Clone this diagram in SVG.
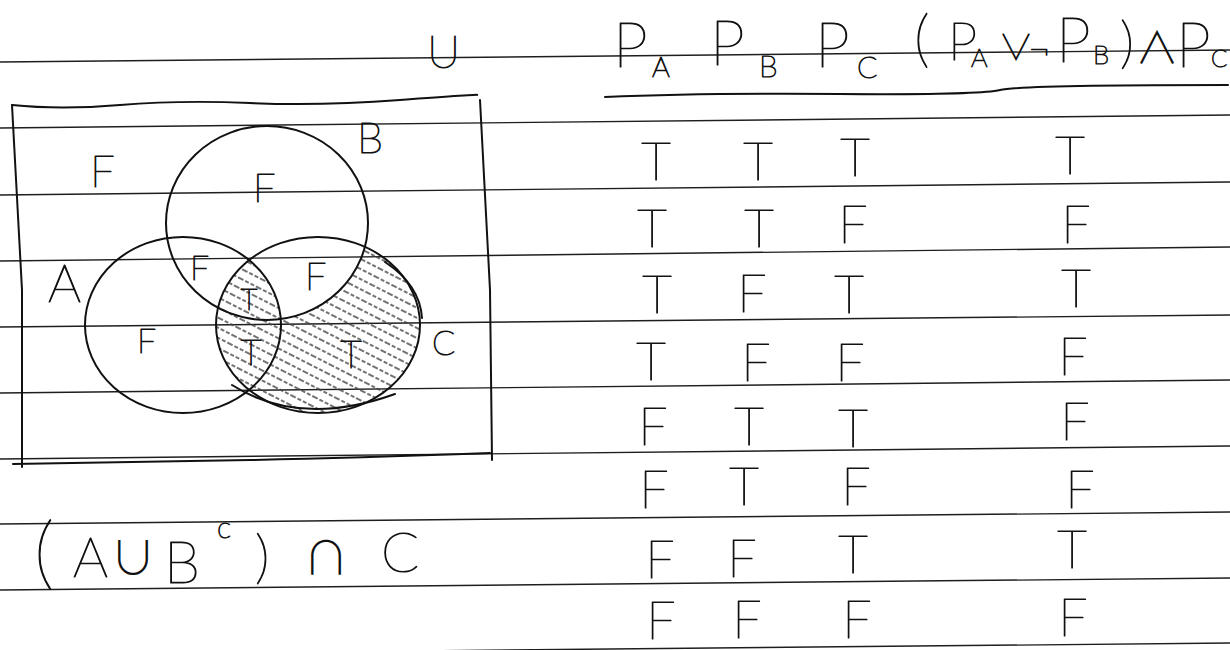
<svg xmlns="http://www.w3.org/2000/svg" width="1230" height="650" viewBox="0 0 1230 650">
<style>
.rule{stroke:#1e1e1e;stroke-width:1.4;fill:none}
.ink{stroke:#111;stroke-width:2;fill:none;stroke-linecap:round}
.hw{font-family:Lato,"Liberation Sans",sans-serif;font-weight:200;fill:#111;stroke:#111;stroke-width:1.1;stroke-linejoin:round}
.sym{font-family:"Noto Sans CJK SC","DejaVu Sans",sans-serif;font-weight:300;fill:#111}
.cell{font-size:52px;text-anchor:middle}
.hatch{stroke:#444;stroke-width:1.3;stroke-dasharray:4 2}
</style>
<defs>
<pattern id="hatchPat" patternUnits="userSpaceOnUse" width="20" height="9" patternTransform="rotate(27)">
<line class="hatch" x1="0" y1="4" x2="20" y2="4"/>
</pattern>
<clipPath id="clipC"><ellipse cx="318" cy="325" rx="102" ry="88"/></clipPath>
<mask id="maskAnotB" maskUnits="userSpaceOnUse" x="0" y="0" width="1230" height="650">
<rect x="0" y="0" width="1230" height="650" fill="#fff"/>
<ellipse cx="267" cy="223" rx="101" ry="97" fill="#000"/>
<ellipse cx="183" cy="325" rx="98" ry="88" fill="#fff"/>
</mask>
</defs>
<rect width="1230" height="650" fill="#fff"/>
<g id="paper-lines">
<path class="rule" d="M0,62 L1230,50"/>
<path class="rule" d="M0,128 L1230,115"/>
<path class="rule" d="M0,195 L1230,182"/>
<path class="rule" d="M0,261 L1230,247"/>
<path class="rule" d="M0,327 L1230,315"/>
<path class="rule" d="M0,393 L1230,380"/>
<path class="rule" d="M0,459 L1230,446"/>
<path class="rule" d="M0,524 L1230,512"/>
<path class="rule" d="M0,590 L1230,578"/>
<path class="rule" d="M0,655 L1230,643"/>
</g>
<g id="universe-box">
<path class="ink" d="M12,105 Q60,110 120,105 T250,103 T400,100 T477,95"/>
<path class="ink" d="M12,105 L22,290 L22,467"/>
<path class="ink" d="M13,464 Q150,462 250,460 T490,453"/>
<path class="ink" stroke-width="1.5" d="M480,100 L490,290 L492,460"/>
<text class="hw" x="427" y="68" font-size="46">U</text>
</g>
<g id="shading">
<g clip-path="url(#clipC)">
<rect x="200" y="230" width="230" height="190" fill="url(#hatchPat)" mask="url(#maskAnotB)"/>
</g>
</g>
<g id="set-B">
<ellipse class="ink" cx="267" cy="223" rx="101" ry="97"/>
<text class="hw" x="357" y="153" font-size="42">B</text>
</g>
<g id="set-A">
<ellipse class="ink" cx="183" cy="325" rx="98" ry="88"/>
<text class="hw" x="48" y="302" font-size="52">A</text>
</g>
<g id="set-C">
<ellipse class="ink" stroke-width="2.6" cx="318" cy="325" rx="102" ry="88"/>
<path class="ink" stroke-width="1.6" d="M232,385 Q300,428 395,394"/>
<path class="ink" stroke-width="1.6" d="M385,262 Q420,285 422,318"/>
<text class="hw" x="432" y="355" font-size="34">C</text>
</g>
<g id="region-labels">
<text class="hw" x="90" y="187" font-size="44">F</text>
<text class="hw" x="253" y="202" font-size="40">F</text>
<text class="hw" x="190" y="280" font-size="34">F</text>
<text class="hw" x="305" y="290" font-size="38">F</text>
<text class="hw" x="249" y="310" font-size="30" text-anchor="middle">T</text>
<text class="hw" x="137" y="353" font-size="34">F</text>
<text class="hw" x="251" y="365" font-size="36" text-anchor="middle">T</text>
<text class="hw" x="351" y="368" font-size="38" text-anchor="middle">T</text>
</g>
<g id="formula">
<text class="hw" x="34" y="580" font-size="80">(</text>
<text class="hw" x="73" y="577" font-size="55">A</text>
<text class="sym" x="110" y="574" font-size="46">∪</text>
<text class="hw" x="164" y="583" font-size="58">B</text>
<text class="hw" x="217" y="538" font-size="30">c</text>
<text class="hw" x="255" y="577" font-size="58">)</text>
<text class="sym" x="303" y="574" font-size="46">∩</text>
<text class="hw" x="381" y="572" font-size="56">C</text>
</g>
<g id="table-header">
<text class="hw" x="613" y="67" font-size="62">P</text>
<text class="hw" x="652" y="77" font-size="28">A</text>
<text class="hw" x="710" y="65" font-size="62">P</text>
<text class="hw" x="759" y="77" font-size="30">B</text>
<text class="hw" x="815" y="67" font-size="62">P</text>
<text class="hw" x="857" y="78" font-size="30">C</text>
<text class="hw" x="914" y="60" font-size="62">(</text>
<text class="hw" x="948" y="60" font-size="52">P</text>
<text class="hw" x="971" y="67" font-size="26">A</text>
<text class="sym" x="998" y="61" font-size="36">∨</text>
<text class="hw" x="1028" y="62" font-size="38">¬</text>
<text class="hw" x="1056" y="62" font-size="62">P</text>
<text class="hw" x="1093" y="64" font-size="26">B</text>
<text class="hw" x="1120" y="62" font-size="56">)</text>
<text class="sym" x="1135" y="64" font-size="44">∧</text>
<text class="hw" x="1176" y="67" font-size="62">P</text>
<text class="hw" x="1211" y="67" font-size="24">C</text>
<path class="ink" stroke-width="2.2" d="M605,97 Q700,93 840,94 T1000,90 T1228,85"/>
</g>
<g id="table-rows" class="hw cell">
<text x="656" y="180">T</text><text x="758" y="180">T</text><text x="855" y="176">T</text><text x="1070" y="174">T</text>
<text x="652" y="247">T</text><text x="759" y="247">T</text><text x="853" y="243">F</text><text x="1076" y="243">F</text>
<text x="657" y="313">T</text><text x="752" y="312">F</text><text x="849" y="313">T</text><text x="1076" y="307">T</text>
<text x="651" y="380">T</text><text x="756" y="381">F</text><text x="850" y="381">F</text><text x="1073" y="375">F</text>
<text x="653" y="445">F</text><text x="749" y="445">T</text><text x="853" y="447">T</text><text x="1075" y="440">F</text>
<text x="654" y="508">F</text><text x="744" y="505">T</text><text x="856" y="505">F</text><text x="1080" y="508">F</text>
<text x="660" y="578">F</text><text x="742" y="577">F</text><text x="853" y="573">T</text><text x="1072" y="568">T</text>
<text x="661" y="639">F</text><text x="747" y="638">F</text><text x="857" y="638">F</text><text x="1073" y="636">F</text>
</g>
</svg>
